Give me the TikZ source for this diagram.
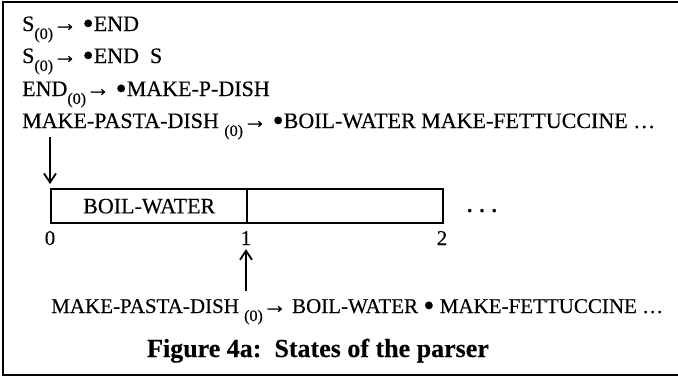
\documentclass[tikz,border=0pt]{standalone}
\usepackage{fontspec}
\setmainfont{Liberation Serif}[FakeBold=0.3]
\usetikzlibrary{arrows.meta}
\newcommand{\zsub}[1]{\raisebox{-8pt}{\fontsize{16}{16}\selectfont #1}}
\newcommand{\zto}{{\fontsize{24}{24}\selectfont →}}
\newcommand{\dotm}{\raisebox{-3pt}{\fontsize{32}{32}\selectfont\textbullet}}
\begin{document}
\begin{tikzpicture}[x=1pt,y=-1pt,
		txt/.style={anchor=base west,inner sep=0pt,font=\fontsize{22}{22}\selectfont},
		cell/.style={draw,line width=2.4pt,minimum width=196pt,minimum height=34pt,inner sep=0pt,anchor=north west,font=\fontsize{22}{22}\selectfont},
		num/.style={anchor=base,inner sep=0pt,font=\fontsize{21}{21}\selectfont},
		ptr/.style={-{Straight Barb[length=9pt,width=12pt,line width=1.8pt]},line width=2.2pt}]
		\useasboundingbox (0,0) rectangle (678,378);
		% frame
		\draw[line width=2.6pt] (678,2) -- (3,2) -- (3,375) -- (678,375);
		
		% items at position 0
		\node[txt] (r1) at (22,31)		{S\zsub{(0)}\zto\ \dotm END};
		\node[txt] (r2) at (22,63)		{S\zsub{(0)}\zto\ \dotm END\enspace S};
		\node[txt] (r3) at (22,96)		{END\zsub{(0)}\zto\ \dotm MAKE-P-DISH};
		\node[txt] (r4) at (22,128)		{MAKE-PASTA-DISH \zsub{(0)}\zto\ \dotm BOIL-WATER MAKE-FETTUCCINE \dots};
		
		% chart
		\node[cell] (c0) at (50,188)		{BOIL-WATER};
		\node[cell] (c1) at (246,188)		{};
		\node[num] (more) at (482,212)		{\textbf{.\,\,.\,\,.}};
		\node[num] (n0) at (50,245)		{0};
		\node[num] (n1) at (246,245)		{1};
		\node[num] (n2) at (442,245)		{2};
		
		\node[txt,font=\fontsize{21}{21}\selectfont] (st) at (51,313)		{MAKE-PASTA-DISH \zsub{(0)}\zto\ BOIL-WATER \dotm\ MAKE-FETTUCCINE \dots};
		\node[anchor=base,inner sep=0pt,font=\fontsize{26}{26}\selectfont\bfseries] (cap) at (318,357)		{Figure 4a:\enspace States of the parser};
		
		\coordinate (dtop) at (50,137);
		\coordinate (ufoot) at (246,291);
		\draw[ptr] (dtop) -- ([yshift=4pt]c0.north west);
		\draw[ptr] (ufoot) -- ([yshift=-4pt]n1.south);
	\end{tikzpicture}
\end{document}
